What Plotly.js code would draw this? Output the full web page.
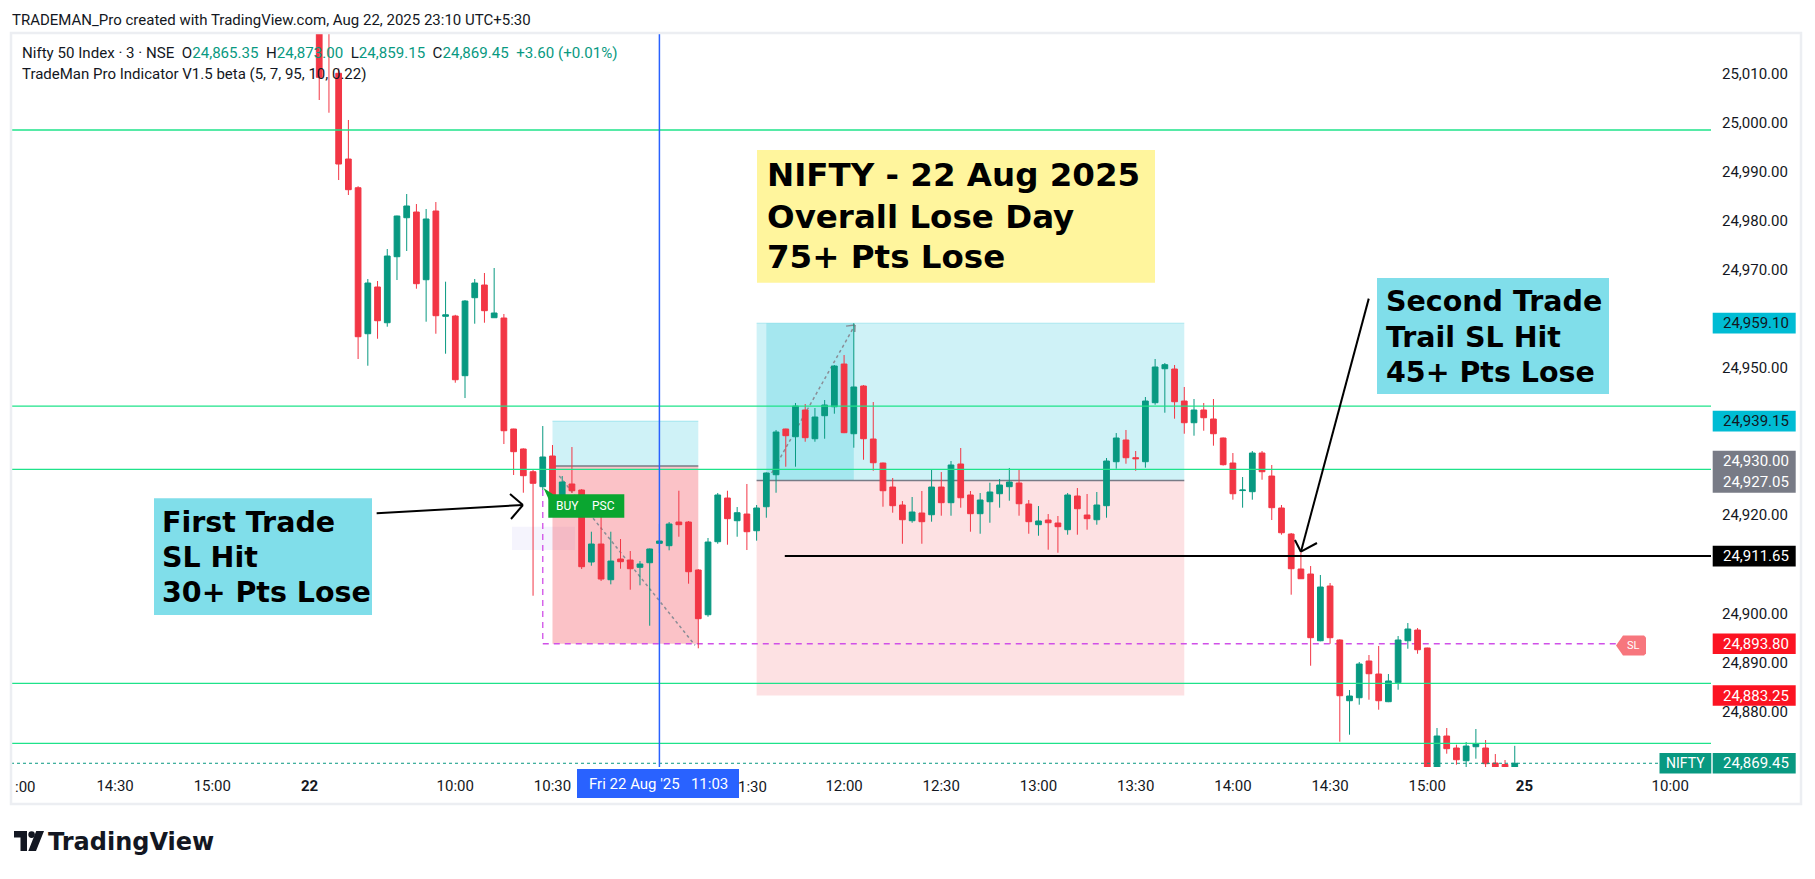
<!DOCTYPE html>
<html>
<head>
<meta charset="utf-8">
<script src="https://cdn.plot.ly/plotly-3.0.1.min.js"></script>
<style>
html,body{margin:0;padding:0;background:#ffffff;}
#chart{width:1815px;height:879px;}
</style>
</head>
<body>
<div id="chart"></div>
<script>
// ---------------- DATA ----------------
// 3-minute candles of Nifty 50, Fri 22 Aug 2025, 09:15 ... 15:27 (bar 0 ... 124)
const openPx = [25064.15,25045.00,25025.00,25010.00,24992.54,24986.69,24956.95,24966.47,24959.19,24972.64,
24980.58,24981.74,24967.95,24981.95,24960.50,24960.56,24948.40,24964.29,24966.87,24960.21,
24960.15,24937.54,24933.47,24928.84,24925.79,24932.04,24923.08,24926.34,24925.11,24910.45,
24914.11,24906.84,24911.06,24910.85,24909.37,24910.30,24914.25,24913.77,24918.59,24918.59,
24908.82,24899.71,24914.58,24923.48,24918.86,24920.22,24916.82,24921.71,24928.23,24937.54,
24935.97,24941.41,24935.56,24940.25,24942.08,24950.78,24936.58,24946.30,24935.50,24930.61,
24925.72,24922.06,24918.86,24920.43,24920.08,24925.72,24922.53,24930.41,24924.10,24920.29,
24922.73,24924.36,24925.79,24926.54,24922.26,24918.05,24919.00,24918.39,24917.03,24923.89,
24920.02,24919.06,24921.92,24930.88,24935.30,24931.69,24930.88,24942.90,24949.82,24949.76,
24943.24,24938.82,24941.41,24939.58,24935.71,24930.61,24925.00,24924.77,24932.65,24927.96,
24921.45,24916.15,24909.02,24908.00,24894.41,24905.56,24894.56,24882.19,24882.80,24890.28,
24887.63,24881.99,24885.86,24894.41,24896.59,24892.93,24866.20,24875.00,24872.56,24869.97,
24872.82,24872.56,24869.50,24869.20,24865.35];
const highPx = [25084.60,25046.00,25031.00,25011.00,25000.49,24987.00,24968.10,24967.69,24974.21,24981.00,
24985.41,24983.37,24982.36,24983.78,24967.55,24960.80,24963.80,24968.10,24969.32,24970.34,
24960.97,24937.60,24933.60,24929.19,24938.15,24934.28,24927.96,24933.87,24925.30,24916.62,
24920.69,24916.62,24915.13,24912.69,24910.65,24913.20,24918.19,24918.59,24924.97,24918.80,
24909.00,24915.34,24924.50,24924.97,24921.65,24926.34,24922.06,24928.70,24937.34,24937.60,
24942.84,24942.63,24941.82,24943.45,24950.58,24952.61,24959.10,24946.50,24943.04,24930.70,
24927.56,24922.87,24923.69,24924.91,24929.39,24928.78,24931.02,24933.67,24924.91,24924.50,
24926.60,24927.35,24929.60,24929.19,24923.08,24921.85,24920.22,24919.82,24924.50,24925.52,
24924.30,24924.71,24931.63,24936.72,24937.34,24933.06,24944.06,24951.80,24950.98,24950.58,
24946.10,24943.65,24942.84,24943.65,24935.80,24932.65,24927.76,24933.06,24933.06,24930.21,
24922.06,24916.36,24912.75,24909.63,24907.80,24906.17,24894.70,24884.37,24890.08,24891.50,
24893.34,24887.63,24895.37,24898.02,24897.00,24893.00,24876.63,24876.63,24873.23,24873.78,
24876.43,24874.19,24871.33,24870.11,24873.00];
const lowPx = [25040.00,25004.56,25001.97,24988.26,24985.21,24951.80,24950.43,24955.93,24958.38,24967.89,
24973.80,24966.12,24959.40,24956.95,24952.88,24946.97,24943.85,24958.99,24959.19,24960.21,
24934.48,24928.17,24924.56,24903.58,24925.11,24921.50,24922.50,24924.50,24909.02,24909.69,
24906.58,24905.90,24909.08,24904.80,24905.70,24897.47,24912.28,24912.83,24915.60,24906.03,
24892.87,24899.30,24914.17,24913.97,24915.60,24912.89,24914.79,24919.47,24924.56,24929.86,
24929.86,24934.95,24934.95,24935.56,24940.66,24936.70,24933.73,24931.28,24929.04,24921.71,
24920.49,24914.17,24918.45,24914.17,24918.66,24919.88,24919.88,24921.51,24916.62,24916.21,
24918.45,24921.51,24922.93,24919.88,24916.21,24915.80,24912.95,24912.34,24916.01,24916.01,
24917.03,24918.05,24919.47,24929.45,24930.47,24929.04,24929.66,24942.49,24940.86,24939.64,
24936.58,24936.18,24937.19,24934.14,24930.10,24923.14,24921.51,24923.14,24927.21,24919.00,
24916.01,24903.79,24907.00,24889.32,24894.30,24893.80,24873.84,24875.27,24881.38,24882.40,
24880.36,24881.90,24884.43,24892.78,24891.76,24863.50,24862.00,24871.40,24869.15,24867.50,
24870.38,24867.80,24866.50,24865.00,24859.15];
const closePx = [25045.00,25009.18,25020.00,24991.52,24986.29,24956.34,24967.28,24959.60,24972.78,24980.93,
24982.97,24967.14,24980.32,24960.62,24960.80,24947.58,24963.61,24967.28,24961.64,24961.17,
24937.19,24932.92,24928.03,24926.48,24931.84,24922.40,24926.74,24924.97,24909.49,24914.11,
24906.98,24910.65,24910.51,24909.08,24910.04,24913.10,24914.72,24918.19,24918.05,24908.47,
24898.90,24914.52,24924.10,24919.27,24920.49,24916.62,24921.45,24928.58,24936.93,24936.18,
24942.22,24935.77,24939.98,24942.43,24950.37,24936.79,24946.10,24935.56,24930.67,24924.97,
24921.92,24919.06,24920.63,24918.66,24925.72,24922.53,24930.21,24923.54,24920.29,24923.08,
24924.71,24926.13,24926.74,24922.32,24918.66,24918.80,24918.45,24917.64,24924.10,24921.30,
24919.27,24922.06,24931.02,24935.71,24931.69,24931.49,24943.24,24950.17,24950.64,24943.10,
24938.82,24941.41,24939.84,24936.58,24930.27,24924.36,24925.11,24932.65,24928.84,24921.51,
24916.41,24909.08,24907.04,24895.03,24905.35,24895.03,24883.21,24883.15,24889.67,24887.69,
24882.19,24886.21,24894.56,24896.80,24892.58,24866.00,24875.00,24872.42,24870.17,24872.96,
24873.37,24869.36,24868.20,24867.00,24869.45];

// time axis (bar positions relative to 22 Aug 09:15) and their labels
// (11:00 and 11:30 sit under the crosshair time label; only ":00" of 14:00 and "1:30" of 11:30 show)
const timeTickPos  = [-20, -10, 0, 15, 25, 55, 65, 75, 85, 95, 105, 115, 125, 140];
const timeTickText = ['14:30','15:00','<b>22</b>','10:00','10:30','12:00','12:30','13:00','13:30','14:00','14:30','15:00','<b>25</b>','10:00'];
const clippedTimeLabels = [{text: ':00', px: 25}, {text: '1:30', px: 752}];

// price axis ticks (those under the coloured price labels are hidden)
const priceTicks = [24880,24890,24900,24920,24950,24970,24980,24990,25000,25010];

// indicator levels (green lines)
const greenLevels = [24998.45, 24942.22, 24929.33, 24885.74, 24873.51];

// first trade (long position)
const trade1 = {start: 25, end: 40, entry: 24930.00, target: 24939.15, stop: 24893.80};
// second trade (long position)
const trade2 = {start: 46, end: 90, entry: 24927.05, target: 24959.10, stop: 24883.25, hitEnd: 56};
const blackLevel = 24911.65;
const lastPrice = 24869.45;
const crosshairBar = 36;

// price-scale labels
const priceLabels = [
  {text: '24,959.10', price: 24959.10, bg: '#00bcd4', fg: '#131722'},
  {text: '24,939.15', price: 24939.15, bg: '#00bcd4', fg: '#131722'},
  {text: '24,911.65', price: 24911.65, bg: '#000000', fg: '#ffffff'},
  {text: '24,893.80', price: 24893.80, bg: '#fc1322', fg: '#ffffff'},
  {text: '24,883.25', price: 24883.25, bg: '#fc1322', fg: '#ffffff'},
  {text: '24,869.45', price: 24869.45, bg: '#089981', fg: '#ffffff'}
];

// ---------------- GEOMETRY HELPERS ----------------
const W = 1815, H = 879;
const PL = 11, PR = 1711, PT = 33, PB = 767;
const XMIN = -30.71, XMAX = 144.19, YMIN = 24868.69, YMAX = 25018.21;
const PX = px => (px - PL) / (PR - PL);
const PY = py => (PB - py) / (PB - PT);
const priceToPy = p => PT + (YMAX - p) / (YMAX - YMIN) * (PB - PT);

const barIndex = openPx.map((_, i) => i);

const GREEN = '#089981', RED = '#f23645';
const UIFONT = 'Roboto, "Noto Sans", sans-serif';
const BOXFONT = '"DejaVu Sans", sans-serif';

const traces = [{
  type: 'candlestick',
  x: barIndex, open: openPx, high: highPx, low: lowPx, close: closePx,
  increasing: {line: {color: GREEN, width: 1}, fillcolor: GREEN},
  decreasing: {line: {color: RED, width: 1}, fillcolor: RED},
  whiskerwidth: 0,
  hoverinfo: 'skip',
  showlegend: false
}];

const shapes = [];
const annotations = [];

function rectData(x0, x1, y0, y1, fill, layer) {
  shapes.push({type: 'rect', xref: 'x', yref: 'y', x0, x1, y0, y1, fillcolor: fill, line: {width: 0}, layer: layer || 'below'});
}
function lineData(x0, y0, x1, y1, color, width, dash, layer) {
  shapes.push({type: 'line', xref: 'x', yref: 'y', x0, y0, x1, y1, line: {color, width, dash: dash || 'solid'}, layer: layer || 'below'});
}
function rectPx(x0, y0, x1, y1, fill, layer) {
  shapes.push({type: 'rect', xref: 'paper', yref: 'paper', x0: PX(x0), x1: PX(x1), y0: PY(y1), y1: PY(y0), fillcolor: fill, line: {width: 0}, layer: layer || 'above'});
}
function pathPx(pts, fill) {
  const d = pts.map((p, k) => (k ? 'L' : 'M') + PX(p[0]) + ',' + PY(p[1])).join(' ') + ' Z';
  shapes.push({type: 'path', xref: 'paper', yref: 'paper', path: d, fillcolor: fill, line: {width: 0}, layer: 'above'});
}
function textPx(x, y, text, size, color, family, anchor, weight) {
  annotations.push({xref: 'paper', yref: 'paper', x: PX(x), y: PY(y), text, showarrow: false,
    xanchor: anchor || 'left', yanchor: 'middle', borderpad: 0, borderwidth: 0,
    font: {size, color, family, weight: weight || 'normal'}});
}

// --- position tool zones (below candles)
rectData(trade1.start, trade1.end, trade1.entry, trade1.target, 'rgba(0,188,212,0.19)');
rectData(trade1.start, trade1.end, trade1.stop, trade1.entry, 'rgba(242,54,69,0.30)');
lineData(trade1.start, trade1.target, trade1.end, trade1.target, 'rgba(0,188,212,0.25)', 1);
lineData(trade1.start, trade1.entry, trade1.end, trade1.entry, '#787b86', 1.5);
rectData(trade2.start, trade2.end, trade2.entry, trade2.target, 'rgba(0,188,212,0.19)');
rectData(trade2.start + 1, trade2.hitEnd, trade2.entry, trade2.target, 'rgba(0,188,212,0.20)');
rectData(trade2.start, trade2.end, trade2.stop, trade2.entry, 'rgba(242,54,69,0.15)');
lineData(trade2.start, trade2.target, trade2.end, trade2.target, 'rgba(0,188,212,0.25)', 1);
lineData(trade2.start, trade2.entry, trade2.end, trade2.entry, '#787b86', 1.5);
shapes.push({type: 'rect', xref: 'paper', yref: 'paper', x0: PX(512), x1: PX(575), y0: PY(550), y1: PY(526.7),
  fillcolor: 'rgba(110,100,230,0.07)', line: {width: 0}, layer: 'below'});
lineData(25.7, 24927.96, 39.66, 24893.5, '#8a8d96', 1.5, '3px,3px');
lineData(47.55, 24928.58, 56.12, 24958.73, '#8a8d96', 1.5, '3px,3px');
lineData(56.12, 24958.73, 55.2, 24958.5, '#8a8d96', 1.5);
lineData(56.12, 24958.73, 56.1, 24957.3, '#8a8d96', 1.5);
lineData(24, 24925.11, 24, trade1.stop, '#d050e8', 1.3, '6px,5px');
lineData(24, trade1.stop, 134.5, trade1.stop, '#d050e8', 1.3, '6px,5px');

// --- lines above candles
greenLevels.forEach(lv => {
  shapes.push({type: 'line', xref: 'paper', yref: 'y', x0: 0, x1: 1, y0: lv, y1: lv, line: {color: '#1ee38a', width: 1.3}, layer: 'above'});
});
shapes.push({type: 'line', xref: 'paper', yref: 'y', x0: 0, x1: 1, y0: lastPrice, y1: lastPrice, line: {color: GREEN, width: 1, dash: 'dot'}, layer: 'above'});
lineData(48.9, blackLevel, 150, blackLevel, '#000000', 2, 'solid', 'above');
shapes.push({type: 'line', xref: 'x', yref: 'paper', x0: crosshairBar, x1: crosshairBar, y0: 0, y1: 1, line: {color: '#2962ff', width: 1.5}, layer: 'above'});

// hand-drawn arrows
lineData(6.91, 24920.37, 21.96, 24922.06, '#000', 2, 'solid', 'above');
lineData(20.63, 24924.30, 21.96, 24922.06, '#000', 2, 'solid', 'above');
lineData(20.73, 24919.21, 21.96, 24922.06, '#000', 2, 'solid', 'above');
lineData(108.98, 24964.10, 102.0, 24912.55, '#000', 2, 'solid', 'above');
lineData(101.38, 24914.93, 102.0, 24912.55, '#000', 2, 'solid', 'above');
lineData(103.65, 24914.32, 102.0, 24912.55, '#000', 2, 'solid', 'above');

// --- BUY / PSC label
pathPx([[543.5, 488], [553, 494.3], [549, 500]], '#0aa630');
rectPx(548.3, 494.3, 624.3, 517.7, '#0aa630');
textPx(567, 506.5, 'BUY', 12, '#ffffff', UIFONT, 'center');
textPx(603, 506.5, 'PSC', 12, '#ffffff', UIFONT, 'center');

// --- text boxes
rectPx(757, 150, 1155, 282.7, '#fff59d');
textPx(767, 175.3, 'NIFTY - 22 Aug 2025', 32.5, '#000', BOXFONT, 'left', 'bold');
textPx(767, 216.6, 'Overall Lose Day', 32.5, '#000', BOXFONT, 'left', 'bold');
textPx(767, 256.6, '75+ Pts Lose', 32.5, '#000', BOXFONT, 'left', 'bold');

rectPx(154, 498.3, 372, 615, '#80deea');
textPx(162, 522, 'First Trade', 28.5, '#000', BOXFONT, 'left', 'bold');
textPx(162, 557, 'SL Hit', 28.5, '#000', BOXFONT, 'left', 'bold');
textPx(162, 592, '30+ Pts Lose', 28.5, '#000', BOXFONT, 'left', 'bold');

rectPx(1377, 278, 1609, 394, '#80deea');
textPx(1386, 301.5, 'Second Trade', 28.5, '#000', BOXFONT, 'left', 'bold');
textPx(1386, 337.5, 'Trail SL Hit', 28.5, '#000', BOXFONT, 'left', 'bold');
textPx(1386, 373, '45+ Pts Lose', 28.5, '#000', BOXFONT, 'left', 'bold');

// --- SL tag
pathPx([[1616, 645.5], [1623, 635.5], [1644, 635.5], [1646, 637.5], [1646, 653.5], [1644, 655.5], [1623, 655.5]], '#f7767d');
textPx(1633.5, 645.5, 'SL', 11, '#ffffff', UIFONT, 'center');

// --- price scale labels
priceLabels.forEach(l => {
  const py = priceToPy(l.price);
  rectPx(1712.7, py - 10.3, 1795.7, py + 10.3, l.bg);
  textPx(1755.5, py, l.text, 15, l.fg, UIFONT, 'center');
});
rectPx(1712.7, 450.7, 1795.7, 492.7, '#787b86');
textPx(1755.5, 461, '24,930.00', 15, '#ffffff', UIFONT, 'center');
textPx(1755.5, 481.7, '24,927.05', 15, '#ffffff', UIFONT, 'center');
rectPx(1659.5, priceToPy(lastPrice) - 10.3, 1711.3, priceToPy(lastPrice) + 10.3, GREEN);
textPx(1685.5, priceToPy(lastPrice), 'NIFTY', 14, '#ffffff', UIFONT, 'center');

// --- crosshair time label and partly hidden time labels
rectPx(577, 769, 739, 798, '#2962ff');
textPx(658, 783.5, "Fri 22 Aug '25\u00a0\u00a0\u00a011:03", 15, '#ffffff', UIFONT, 'center');
clippedTimeLabels.forEach(t => textPx(t.px, 786.5, t.text, 15, '#131722', UIFONT, 'center'));

// --- frame
shapes.push({type: 'rect', xref: 'paper', yref: 'paper', x0: PX(11), x1: PX(1801), y0: PY(804), y1: PY(33),
  line: {color: '#eceef2', width: 2.5}, fillcolor: 'rgba(0,0,0,0)', layer: 'above'});

// --- header and legend
textPx(12, 20, 'TRADEMAN_Pro created with TradingView.com, Aug 22, 2025 23:10 UTC+5:30', 15, '#131722', UIFONT, 'left');
const G = s => '<span style="color:#089981">' + s + '</span>';
textPx(22, 53, 'Nifty 50 Index · 3 · NSE\u00a0\u00a0O' + G('24,865.35') + '\u00a0\u00a0H' + G('24,873.00') +
  '\u00a0\u00a0L' + G('24,859.15') + '\u00a0\u00a0C' + G('24,869.45') + '\u00a0\u00a0' + G('+3.60 (+0.01%)'), 15.1, '#131722', UIFONT, 'left');
textPx(22, 74, 'TradeMan Pro Indicator V1.5 beta (5, 7, 95, 10, 0.22)', 15, '#131722', UIFONT, 'left');

// --- TradingView logo
rectPx(14, 831, 27, 837.5, '#131722');
rectPx(20.5, 831, 27, 851, '#131722');
shapes.push({type: 'circle', xref: 'paper', yref: 'paper', x0: PX(28.3), x1: PX(34.9), y0: PY(838), y1: PY(831.2), fillcolor: '#131722', line: {width: 0}, layer: 'above'});
pathPx([[36.2, 831], [44, 831], [36, 851], [28.3, 851]], '#131722');
textPx(47.5, 841.5, 'TradingView', 24, '#131722', BOXFONT, 'left', 'bold');

const layout = {
  width: W, height: H,
  margin: {l: PL, r: W - PR, t: PT, b: H - PB, pad: 0},
  paper_bgcolor: '#ffffff', plot_bgcolor: '#ffffff',
  showlegend: false,
  boxgap: 0.41, boxgroupgap: 0,
  xaxis: {
    range: [XMIN, XMAX], autorange: false, rangeslider: {visible: false},
    showgrid: false, zeroline: false, showline: false,
    tickmode: 'array', tickvals: timeTickPos, ticktext: timeTickText,
    ticks: '', ticklabelstandoff: 8,
    tickfont: {family: UIFONT, size: 15, color: '#131722'},
    fixedrange: true
  },
  yaxis: {
    range: [YMIN, YMAX], autorange: false, side: 'right',
    showgrid: false, zeroline: false, showline: false,
    tickmode: 'array', tickvals: priceTicks, tickformat: ',.2f',
    ticks: '', ticklabelstandoff: 10,
    tickfont: {family: UIFONT, size: 15, color: '#131722'},
    fixedrange: true
  },
  shapes, annotations
};

Plotly.newPlot('chart', traces, layout, {staticPlot: true, displayModeBar: false});
</script>
</body>
</html>
